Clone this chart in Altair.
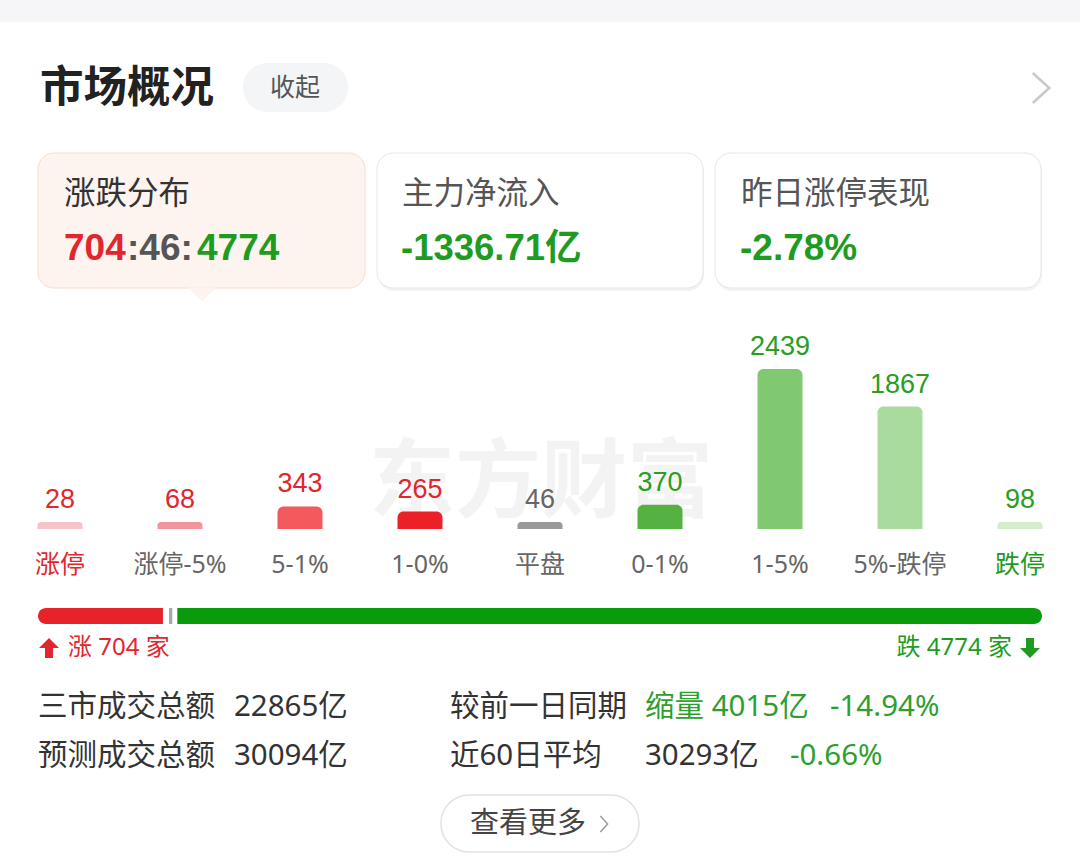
import altair as alt
import pandas as pd

# ---------------- data ----------------
categories = ["涨停", "涨停-5%", "5-1%", "1-0%", "平盘", "0-1%", "1-5%", "5%-跌停", "跌停"]
counts = [28, 68, 343, 265, 46, 370, 2439, 1867, 98]
bar_colors = ["#f6c3c8", "#f1959b", "#f25a5e", "#ec2128", "#9a9a9a",
              "#55b140", "#80c971", "#a8db9c", "#d3edcd"]
value_colors = ["#e2262d", "#e2262d", "#e2262d", "#e2262d", "#666666",
                "#2a9d22", "#2a9d22", "#2a9d22", "#2a9d22"]
label_colors = ["#e2262d", "#666666", "#666666", "#666666", "#666666",
                "#666666", "#666666", "#666666", "#1e9a1e"]

groups = ["涨", "平", "跌"]
group_counts = [704, 46, 4774]
group_colors = ["#e8222a", "#a8a8a8", "#0a9b0a"]

FONT = "Liberation Sans, Noto Sans CJK SC"
FONT2 = "Noto Sans, Noto Sans CJK SC"
DARK = "#333333"
GREEN = "#1f9c1f"
RED = "#e2262d"

bars_df = pd.DataFrame({"cat": categories, "count": counts, "color": bar_colors,
                        "vcolor": value_colors, "lcolor": label_colors})
prog_df = pd.DataFrame({"grp": groups, "n": group_counts, "color": group_colors})

ONE = alt.Data(values=[{"k": 0}])


def T(text, x, y, size, color, weight="normal", align="left", baseline="middle", font=FONT):
    return alt.Chart(ONE).mark_text(
        text=text, fontSize=size, color=color, fontWeight=weight,
        align=align, baseline=baseline, font=font
    ).encode(x=alt.value(x), y=alt.value(y))


def R(x, x2, y, y2, fill, stroke=None, radius=0, sw=1):
    kw = dict(fill=fill, cornerRadius=radius)
    if stroke:
        kw["stroke"] = stroke
        kw["strokeWidth"] = sw
    return alt.Chart(ONE).mark_rect(**kw).encode(
        x=alt.value(x), x2=alt.value(x2), y=alt.value(y), y2=alt.value(y2))


def P(path, x, y, size, fill=None, stroke=None, sw=2):
    kw = dict(shape=path, size=size, opacity=1)
    if fill:
        kw.update(filled=True, fill=fill, strokeWidth=0)
    else:
        kw.update(filled=False, stroke=stroke, strokeWidth=sw)
    return alt.Chart(ONE).mark_point(**kw).encode(x=alt.value(x), y=alt.value(y))


layers = []

# top strip
layers.append(R(0, 1080, 0, 22, "#f6f6f8"))
# header
layers.append(T("市场概况", 40, 89, 43.5, "#222222", weight="bold"))
layers.append(R(243, 348, 63, 112, "#f4f5f7", radius=24))
layers.append(T("收起", 295, 88, 25, "#555555", align="center"))
layers.append(P("M-0.55,-1L0.55,0L-0.55,1", 1041, 88, 900, stroke="#c8c8c8", sw=2.5))

# cards (soft shadow + card)
layers.append(R(378, 704, 155, 291, "#f3f3f3", radius=16))
layers.append(R(716, 1042, 155, 291, "#f3f3f3", radius=16))
layers.append(R(38, 365, 153, 288, "#fdf4f0", stroke="#f6ddd2", radius=16))
layers.append(P("M-1,0L1,0L0,1Z", 202, 287.5, 784, fill="#fdf4f0"))
layers.append(R(377, 703, 153, 288, "#ffffff", stroke="#e6e6e6", radius=16))
layers.append(R(715, 1041, 153, 288, "#ffffff", stroke="#e6e6e6", radius=16))

layers.append(T("涨跌分布", 64, 195, 31.5, DARK))
layers.append(T("704", 64, 249, 37, RED, weight="bold"))
layers.append(T(":46:", 127, 249, 37, "#555555", weight="bold"))
layers.append(T("4774", 197, 249, 37, GREEN, weight="bold"))
layers.append(T("主力净流入", 402, 195, 31.5, "#555555"))
layers.append(T("-1336.71亿", 401, 249, 36.5, GREEN, weight="bold"))
layers.append(T("昨日涨停表现", 741, 195, 31.5, "#555555"))
layers.append(T("-2.78%", 740, 249, 37, GREEN, weight="bold"))

# watermark
layers.append(T("东方财富", 541, 485, 86, "#f3f3f3", weight="bold", align="center"))

# bar chart
xenc = alt.X("cat:N", sort=categories, axis=None,
             scale=alt.Scale(paddingInner=0.625, paddingOuter=0.3125))
yenc = alt.Y("shown:Q", axis=None,
             scale=alt.Scale(domain=[0, 2439], range=[529, 369], nice=False, zero=True))
base = alt.Chart(bars_df).transform_calculate(shown="max(datum.count, 105)")
layers.append(base.mark_bar(cornerRadiusTopLeft=6, cornerRadiusTopRight=6).encode(
    x=xenc, y=yenc, y2=alt.datum(0), color=alt.Color("color:N", scale=None)))
layers.append(base.mark_text(baseline="alphabetic", dy=-14, fontSize=27, font=FONT).encode(
    x=xenc, y=yenc, text="count:Q", color=alt.Color("vcolor:N", scale=None)))
layers.append(base.mark_text(baseline="middle", fontSize=25, font=FONT2).encode(
    x=xenc, y=alt.value(565), text="cat:N", color=alt.Color("lcolor:N", scale=None)))

# progress bar
pbase = alt.Chart(prog_df).transform_window(
    end="sum(n)", frame=[None, 0]).transform_calculate(start="datum.end - datum.n")
px = alt.X("start:Q", axis=None, scale=alt.Scale(domain=[0, sum(group_counts)], range=[38, 1042], nice=False))
px2 = alt.X2("end:Q")
layers.append(pbase.transform_filter("datum.grp == '涨'").mark_rect(
    cornerRadiusTopLeft=8, cornerRadiusBottomLeft=8, x2Offset=-3).encode(
    x=px, x2=px2, y=alt.value(608), y2=alt.value(624), color=alt.Color("color:N", scale=None)))
layers.append(pbase.transform_filter("datum.grp == '平'").mark_rect(
    xOffset=3, x2Offset=-2).encode(
    x=px, x2=px2, y=alt.value(608), y2=alt.value(624), color=alt.Color("color:N", scale=None)))
layers.append(pbase.transform_filter("datum.grp == '跌'").mark_rect(
    cornerRadiusTopRight=8, cornerRadiusBottomRight=8, xOffset=3).encode(
    x=px, x2=px2, y=alt.value(608), y2=alt.value(624), color=alt.Color("color:N", scale=None)))

ARROW_UP = "M0,-1L1,0L0.4,0L0.4,1L-0.4,1L-0.4,0L-1,0Z"
ARROW_DN = "M0,1L1,0L0.4,0L0.4,-1L-0.4,-1L-0.4,0L-1,0Z"
layers.append(P(ARROW_UP, 49, 648, 400, fill=RED))
layers.append(T("涨 704 家", 68, 648, 24, RED, font=FONT2))
layers.append(T("跌 4774 家", 1012, 648, 24, GREEN, align="right", font=FONT2))
layers.append(P(ARROW_DN, 1030, 648, 400, fill=GREEN))

# stats
SG = "#2e9f2e"
S = 29.5
layers.append(T("三市成交总额", 38, 707, S, DARK, font=FONT2))
layers.append(T("22865亿", 234, 707, S, DARK, font=FONT2))
layers.append(T("较前一日同期", 450, 707, S, DARK, font=FONT2))
layers.append(T("缩量 4015亿", 645, 707, S, SG, font=FONT2))
layers.append(T("-14.94%", 830, 707, S, SG, font=FONT2))
layers.append(T("预测成交总额", 38, 756, S, DARK, font=FONT2))
layers.append(T("30094亿", 234, 756, S, DARK, font=FONT2))
layers.append(T("近60日平均", 450, 756, S, DARK, font=FONT2))
layers.append(T("30293亿", 645, 756, S, DARK, font=FONT2))
layers.append(T("-0.66%", 790, 756, S, SG, font=FONT2))

# button
layers.append(R(441, 639, 795, 852, "#ffffff", stroke="#e2e2e2", radius=28, sw=1.5))
layers.append(T("查看更多", 470, 824, 29, "#444444", font=FONT2))
layers.append(P("M-0.45,-1L0.45,0L-0.45,1", 604, 824, 256, stroke="#999999", sw=1.5))

chart = alt.layer(*layers).resolve_scale(
    x="independent", y="independent"
).properties(
    width=1080, height=866, padding=0, autosize="none", background="white"
).configure_view(strokeWidth=0)

chart.save("out.html", embed_options={"renderer": "svg", "actions": False})
